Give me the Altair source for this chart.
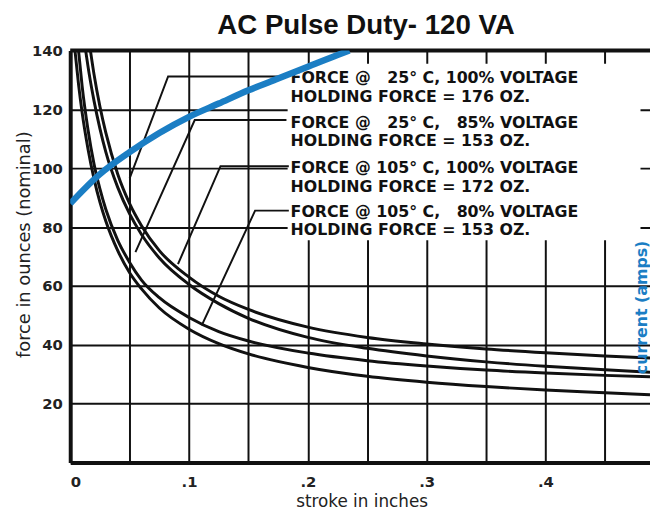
import altair as alt
import pandas as pd

chart_title = "AC Pulse Duty- 120 VA"
x_title = "stroke in inches"
y_title = "force in ounces (nominal)"
current_title = "current (amps)"

# force curves (stroke in inches, force in ounces)
stroke_25c_100 = [0.017, 0.02, 0.025, 0.03, 0.04, 0.05, 0.06, 0.075, 0.1, 0.125, 0.15, 0.2, 0.25, 0.3, 0.35, 0.4, 0.45, 0.488]
force_25c_100 = [140, 132, 121, 112, 98, 88, 80.5, 72, 63, 56.5, 52, 46, 42.5, 40.3, 38.6, 37.3, 36.2, 35.5]

stroke_105c_100 = [0.013, 0.016, 0.02, 0.025, 0.03, 0.04, 0.05, 0.06, 0.075, 0.1, 0.125, 0.15, 0.2, 0.25, 0.3, 0.35, 0.4, 0.45, 0.488]
force_105c_100 = [140, 132, 123, 113.5, 105.5, 93.5, 84.5, 77.5, 69.5, 60.5, 54, 49, 42.5, 38.8, 36.2, 34.2, 32.7, 31.5, 30.7]

stroke_25c_85 = [0.007, 0.01, 0.015, 0.02, 0.025, 0.03, 0.04, 0.05, 0.06, 0.075, 0.1, 0.125, 0.15, 0.2, 0.25, 0.3, 0.35, 0.4, 0.45, 0.488]
force_25c_85 = [140, 128, 113, 101.5, 93, 86, 75.5, 68, 62, 56, 49.3, 44.5, 41.3, 37.2, 34.6, 32.8, 31.4, 30.4, 29.6, 29.1]

stroke_105c_80 = [0.004, 0.007, 0.01, 0.015, 0.02, 0.025, 0.03, 0.04, 0.05, 0.06, 0.075, 0.1, 0.125, 0.15, 0.2, 0.25, 0.3, 0.35, 0.4, 0.45, 0.488]
force_105c_80 = [140, 128.5, 119, 106.5, 96.5, 88.5, 82, 72, 64.5, 59, 52.5, 45.3, 40.4, 36.9, 32.3, 29.3, 27.3, 25.8, 24.6, 23.7, 23]

# coil current curve (drawn on the force grid)
current_stroke = [0, 0.025, 0.05, 0.075, 0.1, 0.125, 0.15, 0.175, 0.2, 0.225, 0.235]
current_value = [88, 98, 105.5, 112, 117.5, 122, 126.5, 130.5, 134.5, 138.5, 140]

# annotation text (two lines per label)
label_line1 = ["FORCE @ \u200725\u00b0 C, 100% VOLTAGE",
               "FORCE @ \u200725\u00b0 C, \u200785% VOLTAGE",
               "FORCE @ 105\u00b0 C, 100% VOLTAGE",
               "FORCE @ 105\u00b0 C, \u200780% VOLTAGE"]
label_line2 = ["HOLDING FORCE = 176 OZ.",
               "HOLDING FORCE = 153 OZ.",
               "HOLDING FORCE = 172 OZ.",
               "HOLDING FORCE = 153 OZ."]
label_stroke = [0.1855, 0.1855, 0.1855, 0.1855]
label_force = [128.9, 113.8, 98.4, 83.6]

# leader lines: text edge -> corner -> curve
leader_stroke = [[0.182, 0.0824, 0.050],
                 [0.182, 0.1048, 0.0549],
                 [0.184, 0.1265, 0.0907],
                 [0.184, 0.1556, 0.1107]]
leader_force = [[131.2, 131.2, 96.6],
                [116.4, 116.4, 71.5],
                [100.7, 100.7, 67.4],
                [85.6, 85.6, 46.6]]

# blank label panel
box_stroke = [0.183, 0.48]
box_force = [75.5, 135.5]

current_label_stroke = [0.481]
current_label_force = [52.7]

x_ticks = [0, 0.05, 0.1, 0.15, 0.2, 0.25, 0.3, 0.35, 0.4, 0.45]
y_ticks = [0, 20, 40, 60, 80, 100, 120, 140]

INK = "#111111"
BLUE = "#1b7ec4"

xs = alt.Scale(domain=[0, 0.488], nice=False, zero=False)
ys = alt.Scale(domain=[0, 140], nice=False)

rows = []
for name, ss, ff in [("25C 100%", stroke_25c_100, force_25c_100),
                     ("105C 100%", stroke_105c_100, force_105c_100),
                     ("25C 85%", stroke_25c_85, force_25c_85),
                     ("105C 80%", stroke_105c_80, force_105c_80)]:
    for i, (s, f) in enumerate(zip(ss, ff)):
        rows.append({"series": name, "i": i, "stroke": s, "force": f})
curves_df = pd.DataFrame(rows)

lead_rows = []
for k, (ss, ff) in enumerate(zip(leader_stroke, leader_force)):
    for i, (s, f) in enumerate(zip(ss, ff)):
        lead_rows.append({"lead": k, "i": i, "stroke": s, "force": f})
lead_df = pd.DataFrame(lead_rows)

text_df = pd.DataFrame({
    "stroke": label_stroke,
    "force": label_force,
    "text": [a + "\n" + b for a, b in zip(label_line1, label_line2)],
})

current_df = pd.DataFrame({"stroke": current_stroke, "force": current_value,
                           "i": list(range(len(current_stroke)))})

box_df = pd.DataFrame({"stroke": [box_stroke[0]], "stroke2": [box_stroke[1]],
                       "force": [box_force[0]], "force2": [box_force[1]]})

x_axis = alt.Axis(
    values=x_ticks,
    labelExpr="datum.value == 0 ? '0' : (round(datum.value * 20) % 2 == 0 ? '.' + round(datum.value * 10) : '')",
    title=x_title, grid=True, gridColor=INK, gridWidth=2, gridOpacity=1,
    domain=True, domainColor=INK, domainWidth=4, ticks=False, labelPadding=12,
    labelFont="DejaVu Sans", labelFontSize=15, labelFontWeight="bold", labelColor="#222",
    titleFont="DejaVu Sans", titleFontSize=17, titleFontWeight="normal", titleColor="#222",
    titleX=295, titleY=45, titleAlign="center", titleBaseline="alphabetic",
)
y_axis = alt.Axis(
    values=y_ticks,
    labelExpr="datum.value == 0 ? '' : datum.label",
    title=y_title, grid=True, gridColor=INK, gridWidth=2, gridOpacity=1,
    domain=True, domainColor=INK, domainWidth=4, ticks=False, labelPadding=8,
    labelFont="DejaVu Sans", labelFontSize=15, labelFontWeight="bold", labelColor="#222",
    titleFont="DejaVu Sans", titleFontSize=18, titleFontWeight="normal", titleColor="#222",
    titleX=-46, titleY=196, titleAngle=270, titleAlign="center", titleBaseline="middle",
)

X = alt.X("stroke:Q", scale=xs, axis=x_axis)
Y = alt.Y("force:Q", scale=ys, axis=y_axis)

curves = alt.Chart(curves_df).mark_line(color=INK, strokeWidth=3, interpolate="monotone", clip=True).encode(
    x=X, y=Y, detail="series:N", order="i:Q",
)

box = alt.Chart(box_df).mark_rect(color="white").encode(
    x=X, x2="stroke2:Q", y=Y, y2="force2:Q",
)

leaders = alt.Chart(lead_df).mark_line(color=INK, strokeWidth=2).encode(
    x=X, y=Y, detail="lead:N", order="i:Q",
)

labels = alt.Chart(text_df).mark_text(
    align="left", baseline="alphabetic", font="DejaVu Sans", fontSize=16, fontWeight="bold",
    color=INK, lineBreak="\n", lineHeight=19
).encode(x=X, y=Y, text="text:N")

current_label = alt.Chart(pd.DataFrame({"stroke": current_label_stroke, "force": current_label_force,
                                        "text": [current_title]})).mark_text(
    angle=270, align="center", baseline="middle", font="DejaVu Sans", fontSize=16,
    fontWeight="bold", color=BLUE
).encode(x=X, y=Y, text="text:N")

top_border = alt.Chart(pd.DataFrame({"force": [140]})).mark_rule(color=INK, strokeWidth=4).encode(y=Y)

current = alt.Chart(current_df).mark_line(color=BLUE, strokeWidth=6.5, interpolate="monotone", clip=True).encode(
    x=X, y=Y, order="i:Q",
)

chart = alt.layer(curves, current_label, box, leaders, labels, top_border, current).properties(
    width=587, height=417,
    autosize=alt.AutoSizeParams(type="none"),
    padding={"left": 63, "top": 40, "right": 0, "bottom": 45},
    title=alt.TitleParams(chart_title, font="Liberation Sans", fontSize=28, fontWeight="bold", color=INK,
                          anchor="middle", offset=4, dx=6),
).configure_view(strokeWidth=0).configure(background="white")

chart.save("out.html", embed_options={"renderer": "svg", "actions": False})
